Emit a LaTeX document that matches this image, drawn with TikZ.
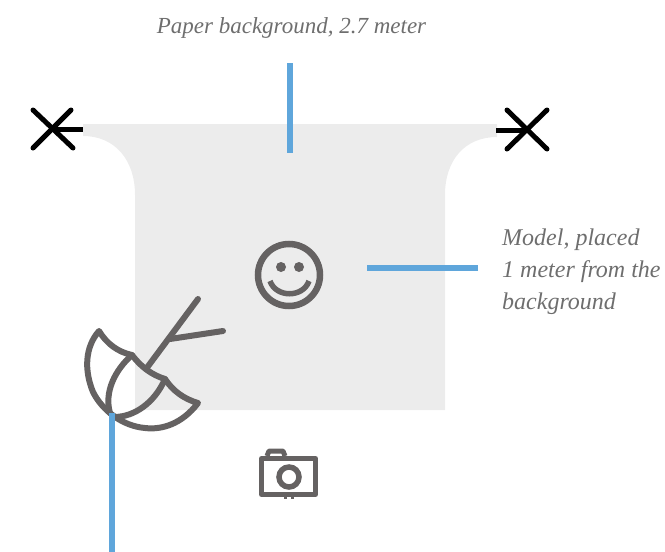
\documentclass[tikz,border=0pt]{standalone}
\usepackage{fontspec}
\setmainfont{Liberation Serif}
\definecolor{paper}{HTML}{ECECEC}
\definecolor{iconcol}{HTML}{656262}
\definecolor{leader}{HTML}{5FA6DB}
\definecolor{labelcol}{HTML}{6E6E6E}
\tikzset{
    label text/.style={font=\fontsize{24}{32}\selectfont\itshape, text=labelcol, inner sep=0pt},
    leader line/.style={leader, line width=5.5pt},
    icon line/.style={iconcol, line width=6pt, line cap=round, line join=round},
    stand line/.style={black, line width=5pt, line cap=round}
}
\begin{document}
\begin{tikzpicture}[x=1pt, y=-1pt]
        \useasboundingbox (0,0) rectangle (665,552);

        % paper
        \fill[paper] (83,124) -- (497,124) -- (497,137) .. controls (465,137) and (445,160) .. (445,195)
            -- (445,410) -- (135,410) -- (135,195) .. controls (135,160) and (115,136) .. (83,136) -- cycle;

        % stands
        \coordinate (standL) at (53,129);
        \coordinate (standR) at (526,130);
        \coordinate (paperL) at (83,129);
        \coordinate (paperR) at (496,130);
        \draw[stand line] (33,110) -- (73,148);
        \draw[stand line] (71,110) -- (33,148);
        \draw[black, line width=5pt] (standL) -- (paperL);
        \draw[stand line] (507,110) -- (547,149);
        \draw[stand line] (547,110) -- (507,149);
        \draw[black, line width=5pt] (standR) -- (paperR);

        % smiley
        \draw[iconcol, line width=6.5pt] (289,275) circle (31);
        \fill[iconcol] (281,267) circle (5);
        \fill[iconcol] (299,267) circle (5);
        \draw[iconcol, line width=5.5pt] (270,281) .. controls (276,298) and (303,298) .. (309,281);

        % umbrella
        \draw[icon line] (198,299) -- (146,369);
        \draw[icon line] (170,339) -- (223,331);
        \draw[icon line] (99,331) .. controls (107,344) and (118,352) .. (132,355)
            .. controls (141,367) and (152,375) .. (165,379)
            .. controls (173,391) and (184,399) .. (198,403)
            .. controls (182,424) and (162,430) .. (145,428)
            .. controls (122,426) and (102,410) .. (93,392)
            .. controls (84,370) and (85,347) .. (99,331) -- cycle;
        \draw[icon line] (132,355) .. controls (115,370) and (104,392) .. (110,413);
        \draw[icon line] (165,379) .. controls (155,402) and (135,417) .. (114,417);

        % camera
        \draw[iconcol, line width=5pt, line join=round] (261.5,458.5) rectangle (315.5,494.5);
        \draw[iconcol, line width=5pt, line join=round] (267,456) -- (269,451) -- (283,451) -- (285,456);
        \draw[iconcol, line width=5.5pt] (289,477) circle (10);
        \fill[iconcol] (284,496) rectangle (287,499);
        \fill[iconcol] (291,496) rectangle (294,499);

        % labels
        \node[label text, font=\fontsize{23}{32}\selectfont\itshape, anchor=base] (paperLabel) at (291.5,33) {Paper background, 2.7 meter};
        \node[label text, anchor=north west, align=left] (modelLabel) at (502,229) {Model, placed\\1 meter from the\\background};

        % leaders
        \coordinate (paperTop) at (290,63);
        \coordinate (paperEnd) at (290,153);
        \coordinate (modelEnd) at (367,268);
        \coordinate (modelStart) at (478,268);
        \coordinate (lightEnd) at (112,413);
        \coordinate (lightStart) at (112,552);
        \draw[leader line] (paperTop) -- (paperEnd);
        \draw[leader line] (modelStart) -- (modelEnd);
        \draw[leader line] (lightStart) -- (lightEnd);
    \end{tikzpicture}
\end{document}
